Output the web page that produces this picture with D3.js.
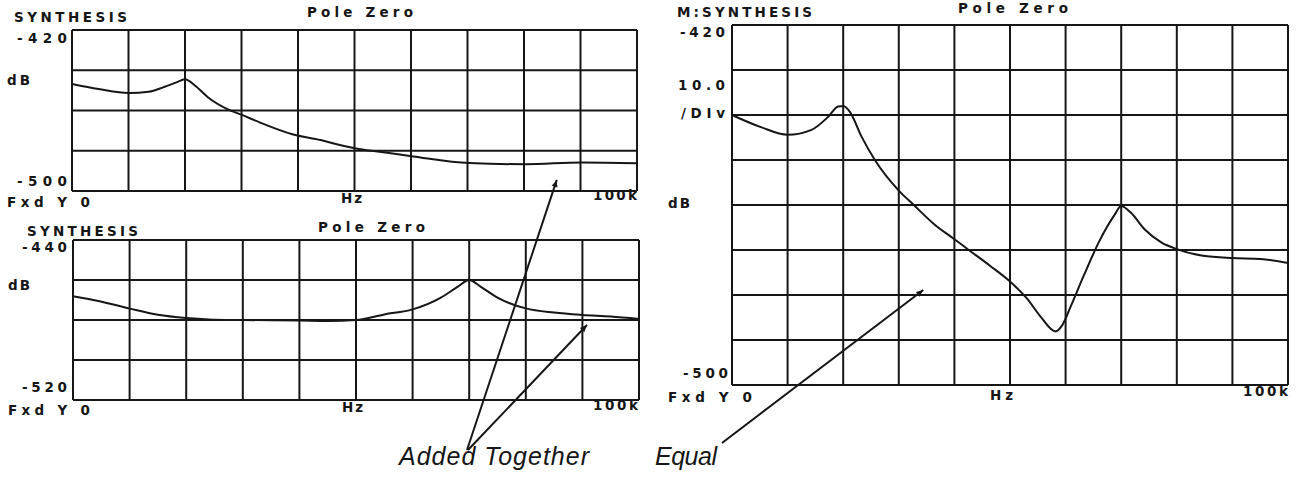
<!DOCTYPE html>
<html><head><meta charset="utf-8">
<script src="https://cdn.jsdelivr.net/npm/d3@7"></script>
<style>body{margin:0;background:#fff;} svg{display:block}</style>
</head><body><svg id="c" width="1296" height="479"></svg>
<script>
// ---- data (frequency in kHz, level in dB) ----
const topFreq = [0, 4.7, 10, 13.6, 16.3, 18.5, 20, 21.8, 24.1, 27.5, 30.1, 33.3, 39, 44, 47.4, 50.8, 55.8, 60.4, 70.3, 80.3, 90.2, 100];
const topDb   = [-446.8, -449.3, -451.3, -450.7, -448.3, -446, -444.5, -447.7, -453.5, -459.3, -462.2, -466, -471.8, -474.7, -477.1, -479.1, -481, -482.8, -486.1, -486.7, -485.8, -486.2];

const botFreq = [0, 4.7, 10, 15, 20, 24, 30, 40, 45, 50, 55, 60, 65, 68, 70, 72, 75, 80, 85, 90, 95, 100];
const botDb   = [-468.1, -470.6, -474.3, -477.4, -479, -479.7, -480, -480.3, -480.5, -480, -477.2, -474.7, -468.8, -463.3, -460, -463.3, -468.8, -474.2, -476.3, -477.5, -478.3, -479.5];

const sumFreq = [0, 5.2, 10, 14.3, 17.3, 19.1, 20, 21.2, 23.3, 25.7, 30, 32.7, 36.3, 40, 42.7, 46.4, 50, 53, 55.5, 58.2, 59.4, 61, 63.3, 66, 68.8, 70, 71.8, 74.2, 77.2, 80, 84.7, 90, 95, 100];
const sumDb   = [-440, -442.7, -444.4, -443.3, -440.4, -438.1, -438, -439.3, -444.8, -450, -456.8, -460, -464.2, -467.6, -470.1, -473.5, -477, -480.7, -484.8, -488.1, -486.7, -482.3, -475.6, -468.2, -462.2, -460.2, -461.8, -465.4, -468.3, -469.8, -471.3, -471.8, -472, -472.9];

// axis ranges / tick labels
const freqRange = [0, 100];
const topRange = [-500, -420];
const botRange = [-520, -440];
const sumRange = [-500, -420];
const xDivisions = 10;
const topDivisions = 4, botDivisions = 4, sumDivisions = 8;
const panelTitles = ["SYNTHESIS", "SYNTHESIS", "M:SYNTHESIS"];
const panelSubtitle = "Pole Zero";
const topTicks = ["-420", "-500"];
const botTicks = ["-440", "-520"];
const sumTicks = ["-420", "-500"];
const xLabels = ["Fxd Y 0", "Hz", "100k"];
const scaleLabels = ["10.0", "/DIv"];
const unitLabel = "dB";
const annotations = ["Added Together", "Equal"];
// annotation arrow targets in data coordinates: [panelIndex, freq, dB]
const arrowTargets = [[0, 85.8, -494.5], [1, 90.8, -482.5], [2, 34.4, -478.9]];

// ---- drawing ----
const svg = d3.select("#c");
svg.append("rect").attr("width", 1296).attr("height", 479).attr("fill", "#fff");
const ink = "#161616";
const plotFont = "'DejaVu Sans', sans-serif";

const panels = [
  {freq: topFreq, db: topDb, range: topRange, div: topDivisions, ticks: topTicks,
   x0: 72, x1: 637, y0: 30, y1: 191},
  {freq: botFreq, db: botDb, range: botRange, div: botDivisions, ticks: botTicks,
   x0: 73, x1: 639, y0: 240, y1: 400},
  {freq: sumFreq, db: sumDb, range: sumRange, div: sumDivisions, ticks: sumTicks,
   x0: 732, x1: 1288, y0: 25, y1: 385}
];

panels.forEach(p => {
  p.x = d3.scaleLinear().domain(freqRange).range([p.x0, p.x1]);
  p.y = d3.scaleLinear().domain(p.range).range([p.y1, p.y0]);
  const g = svg.append("g");
  g.selectAll("line.v").data(d3.range(xDivisions + 1).map(i => freqRange[0] + i * (freqRange[1] - freqRange[0]) / xDivisions))
    .join("line").attr("x1", d => p.x(d)).attr("x2", d => p.x(d))
    .attr("y1", p.y0).attr("y2", p.y1).attr("stroke", ink).attr("stroke-width", 2);
  g.selectAll("line.h").data(d3.range(p.div + 1).map(i => p.range[0] + i * (p.range[1] - p.range[0]) / p.div))
    .join("line").attr("y1", d => p.y(d)).attr("y2", d => p.y(d))
    .attr("x1", p.x0).attr("x2", p.x1).attr("stroke", ink).attr("stroke-width", 2);
  const line = d3.line().x(d => p.x(d[0])).y(d => p.y(d[1])).curve(d3.curveMonotoneX);
  g.append("path").datum(p.freq.map((f, i) => [f, p.db[i]]))
    .attr("d", line).attr("fill", "none").attr("stroke", ink).attr("stroke-width", 2);
});

function label(txt, x, y, w, opts = {}) {
  const t = svg.append("text").attr("x", x).attr("y", y).text(txt)
    .attr("font-family", opts.family || plotFont)
    .attr("font-size", opts.size || 13.5)
    .attr("font-weight", opts.weight || "bold")
    .attr("font-style", opts.style || "normal")
    .attr("fill", ink);
  if (w) t.attr("textLength", w).attr("lengthAdjust", "spacing");
  return t;
}

// top-left labels
label(panelTitles[0], 14, 22, 113);
label(panelSubtitle, 307, 17, 106);
label(topTicks[0], 17, 43, 50);
label(unitLabel, 7, 85, 23);
label(topTicks[1], 17, 186, 50);
label(xLabels[0], 7, 207, 83);
label(xLabels[1], 341, 203, 21);
label(xLabels[2], 593, 200, 44);

// bottom-left labels
label(panelTitles[1], 27, 236, 111);
label(panelSubtitle, 318, 232, 107);
label(botTicks[0], 22, 252, 45);
label(unitLabel, 8, 290, 22);
label(botTicks[1], 22, 392, 45);
label(xLabels[0], 8, 415, 82);
label(xLabels[1], 342, 412, 21);
label(xLabels[2], 593, 410, 45);

// right labels
label(panelTitles[2], 677, 17, 135);
label(panelSubtitle, 958, 13, 110);
label(sumTicks[0], 680, 37, 45);
label(scaleLabels[0], 678, 90, 47);
label(scaleLabels[1], 681, 118, 44);
label(unitLabel, 668, 208, 22);
label(sumTicks[1], 683, 378, 45);
label(xLabels[0], 668, 402, 84);
label(xLabels[1], 990, 400, 23);
label(xLabels[2], 1243, 396, 45);

// annotations
const annFont = "'Liberation Sans', Arial, sans-serif";
label(annotations[0], 399, 465, 190, {family: annFont, size: 25, weight: "normal", style: "italic"});
label(annotations[1], 655, 465, 62, {family: annFont, size: 25, weight: "normal", style: "italic"});

const starts = [[467, 450], [468, 450], [722, 443]];
arrowTargets.forEach((t, i) => {
  const p = panels[t[0]];
  const tx = p.x(t[1]), ty = p.y(t[2]);
  const [sx, sy] = starts[i];
  svg.append("line").attr("x1", sx).attr("y1", sy).attr("x2", tx).attr("y2", ty)
    .attr("stroke", ink).attr("stroke-width", 2);
  const ang = Math.atan2(ty - sy, tx - sx);
  const L = 7, W = 3;
  const bx = tx - L * Math.cos(ang), by = ty - L * Math.sin(ang);
  const pts = [[tx, ty], [bx + W * Math.sin(ang), by - W * Math.cos(ang)], [bx - W * Math.sin(ang), by + W * Math.cos(ang)]];
  svg.append("polygon").attr("points", pts.map(q => q.join(",")).join(" ")).attr("fill", ink);
});
</script></body></html>
